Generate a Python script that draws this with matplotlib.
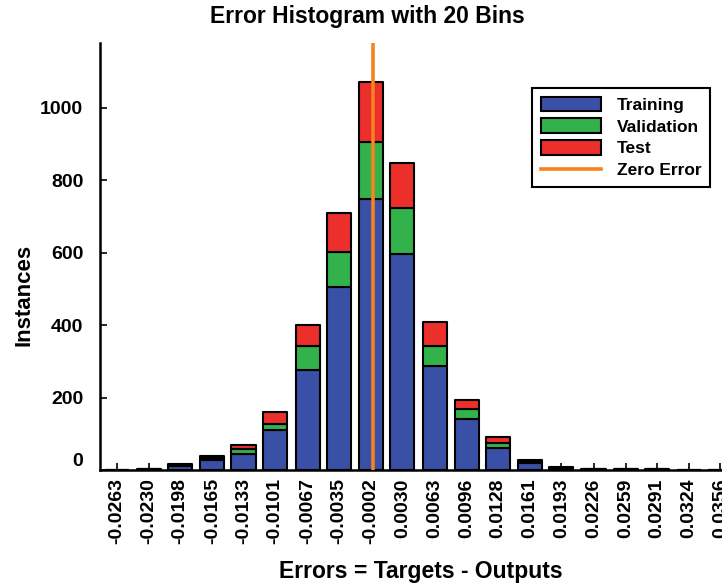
import numpy as np
import matplotlib
matplotlib.use("Agg")
import matplotlib.pyplot as plt

# bin centres (also the tick labels)
bin_labels = ['-0.0263', '-0.0230', '-0.0198', '-0.0165', '-0.0133', '-0.0101',
              '-0.0067', '-0.0035', '-0.0002', '0.0030', '0.0063', '0.0096',
              '0.0128', '0.0161', '0.0193', '0.0226', '0.0259', '0.0291',
              '0.0324', '0.0356']
training = [1, 2, 12, 27, 45, 110, 276, 506, 747, 595, 287, 141, 62, 18, 5, 3, 3, 2, 1, 1]
validation = [0, 1, 2, 6, 12, 17, 67, 96, 159, 129, 56, 27, 13, 4, 1, 1, 1, 0, 0, 0]
test = [0, 0, 2, 6, 12, 33, 57, 106, 165, 124, 66, 25, 16, 5, 1, 0, 0, 0, 0, 0]

plt.rcParams['font.family'] = ['Liberation Sans', 'DejaVu Sans']
plt.rcParams['font.weight'] = 'bold'

centers = np.array([float(s) for s in bin_labels])
step = np.diff(centers).mean()
width = 0.76 * step
tr = np.array(training)
va = np.array(validation)
te = np.array(test)

c_blue = '#3a50a6'
c_green = '#33b14b'
c_red = '#ec2f2b'
c_orange = '#f7821e'

fig = plt.figure(figsize=(7.22, 5.83), dpi=100)
# axes runs a bit past the right edge of the picture, as in the original
ax = fig.add_axes([100 / 722, 113 / 583, 637 / 722, 427 / 583])

kw = dict(width=width, edgecolor='black', linewidth=1.5, joinstyle='round', zorder=2)
b1 = ax.bar(centers, tr, color=c_blue, label='Training', **kw)
b2 = ax.bar(centers, va, bottom=tr, color=c_green, label='Validation', **kw)
b3 = ax.bar(centers, te, bottom=tr + va, color=c_red, label='Test', **kw)
zl = ax.axvline(0, color=c_orange, lw=2.6, zorder=3, label='Zero Error')

ax.set_xlim(centers[0] - 0.526 * step, centers[-1] + 0.526 * step)
ax.set_ylim(0, 1178)
ax.set_yticks([0, 200, 400, 600, 800, 1000])
ax.set_xticks(centers)
ax.set_xticklabels(bin_labels, rotation=90, fontsize=14, fontweight='bold')
for t in ax.get_yticklabels():
    t.set_fontsize(14)
    t.set_fontweight('bold')
ax.get_yticklabels()[0].set_va('bottom')

ax.tick_params(axis='both', direction='in', length=5, width=1.2)
ax.tick_params(axis='y', pad=12)
ax.tick_params(axis='x', pad=6)
for s in ['top', 'right']:
    ax.spines[s].set_visible(False)
for s in ['left', 'bottom']:
    ax.spines[s].set_linewidth(1.8)

fig.text(367 / 722, 1 - 23 / 583, 'Error Histogram with 20 Bins', ha='center',
         va='baseline', fontsize=16.5, fontweight='bold')
fig.text(421 / 722, 1 - 578 / 583, 'Errors = Targets - Outputs', ha='center',
         va='baseline', fontsize=16.5, fontweight='bold')
fig.text(24 / 722, 1 - 295 / 583, 'Instances', ha='center', va='center',
         rotation=90, fontsize=16, fontweight='bold')

leg = ax.legend([b1, b2, b3, zl], ['Training', 'Validation', 'Test', 'Zero Error'],
                loc='upper left', bbox_to_anchor=(532 / 722, 1 - 88 / 583),
                bbox_transform=fig.transFigure, fontsize=12.5, fancybox=False,
                edgecolor='black', framealpha=1, borderpad=0.5,
                handlelength=3.5, handleheight=0.9, handletextpad=0.9,
                labelspacing=0.32, borderaxespad=0)
leg.get_frame().set_linewidth(1.5)
for t in leg.get_texts():
    t.set_fontweight('bold')

fig.savefig('out.png', dpi=100)
